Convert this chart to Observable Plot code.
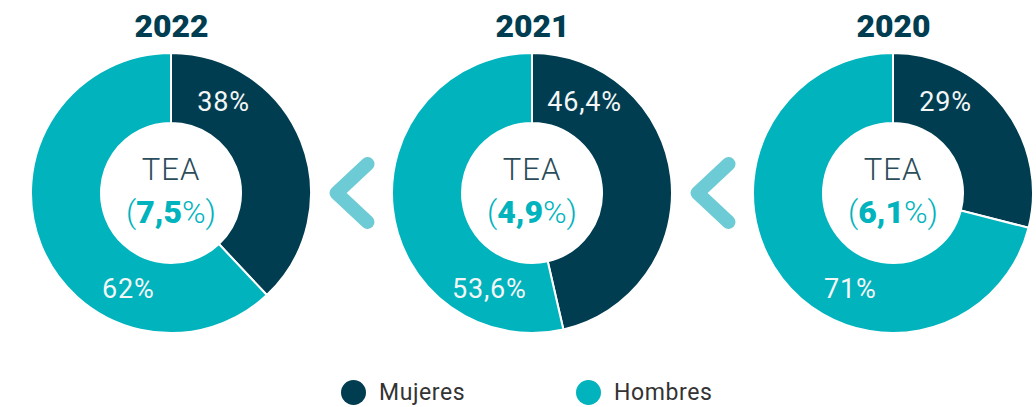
<!DOCTYPE html>
<html><head><meta charset="utf-8">
<script src="https://cdn.jsdelivr.net/npm/d3@7"></script>
<script src="https://cdn.jsdelivr.net/npm/@observablehq/plot@0.6"></script>
<style>
body{margin:0;background:#fff;font-family:Roboto,sans-serif;width:1036px;height:407px;overflow:hidden;position:relative}
#chart{position:absolute;left:0;top:0}
.leg{position:absolute;top:379px;display:flex;align-items:center;font-size:23px;color:#333;letter-spacing:0.6px}
.leg span.sw{display:inline-block;width:25px;height:25px;border-radius:50%;margin-right:13px}
</style></head><body><div id="chart"></div>
<div class="leg" id="leg0" style="left:341px"></div>
<div class="leg" id="leg1" style="left:576px"></div>
<script>
const years = ["2022", "2021", "2020"];
const mujeres = [38, 46.4, 29];
const hombres = [62, 53.6, 71];
const mujeresLabels = ["38%", "46,4%", "29%"];
const hombresLabels = ["62%", "53,6%", "71%"];
const teaValues = ["7,5", "4,9", "6,1"];
const categories = ["Mujeres", "Hombres"];
const colors = ["#003d51", "#00b3bd"];
const chevronColor = "#6ccbd4";

const slices = [];
years.forEach((yr, i) => {
  const total = mujeres[i] + hombres[i];
  slices.push({year: yr, cat: categories[0], a0: 0, a1: mujeres[i] / total, label: mujeresLabels[i]});
  slices.push({year: yr, cat: categories[1], a0: mujeres[i] / total, a1: 1, label: hombresLabels[i]});
});
const centers = years.map((yr, i) => ({year: yr, tea: teaValues[i]}));

function donutMark(index, scales) {
  const {x, y, color} = scales;
  const cy = y(0);
  const rOut = Math.abs(y(0) - y(1));
  const rIn = rOut * 0.5;
  const g = d3.create("svg:g");
  const arc = d3.arc().innerRadius(rIn).outerRadius(rOut);
  g.selectAll("path.slice").data(slices).join("path")
    .attr("class", "slice")
    .attr("transform", d => `translate(${x(d.year)},${cy})`)
    .attr("d", d => arc({startAngle: d.a0 * 2 * Math.PI, endAngle: d.a1 * 2 * Math.PI}))
    .attr("fill", d => color(d.cat))
    .attr("stroke", "#fff").attr("stroke-width", 2).attr("stroke-linejoin", "miter");
  // percentage labels
  const rl = rOut * 0.75;
  g.selectAll("text.pct").data(slices).join("text")
    .attr("class", "pct")
    .attr("x", d => x(d.year) + rl * Math.sin((d.cat === categories[0] ? 30 : 204) * Math.PI / 180))
    .attr("y", d => cy - rl * Math.cos((d.cat === categories[0] ? 30 : 204) * Math.PI / 180))
    .attr("text-anchor", "middle").attr("dominant-baseline", "central")
    .attr("fill", "#f4f6f6").attr("font-size", 27).attr("font-family", "Roboto, sans-serif")
    .attr("letter-spacing", "0.8px")
    .text(d => d.label);
  // center texts
  g.selectAll("text.tea").data(centers).join("text")
    .attr("class", "tea")
    .attr("x", d => x(d.year)).attr("y", cy - 24)
    .attr("text-anchor", "middle").attr("dominant-baseline", "central")
    .attr("fill", "#2b4c5a").attr("font-size", 31).attr("font-weight", 300)
    .attr("font-family", "Roboto, sans-serif").attr("letter-spacing", "1px")
    .text("TEA");
  const v = g.selectAll("text.val").data(centers).join("text")
    .attr("class", "val")
    .attr("x", d => x(d.year)).attr("y", cy + 19)
    .attr("text-anchor", "middle").attr("dominant-baseline", "central")
    .attr("fill", colors[1]).attr("font-size", 32)
    .attr("font-family", "Roboto, sans-serif");
  v.append("tspan").attr("font-weight", 300).text("(");
  v.append("tspan").attr("font-weight", 900).text(d => d.tea);
  v.append("tspan").attr("font-weight", 300).text("%)");
  // chevrons between donuts
  const mids = d3.pairs(years).map(([a, b]) => (x(a) + x(b)) / 2);
  g.selectAll("path.chev").data(mids).join("path")
    .attr("class", "chev")
    .attr("d", m => `M${m + 16},${cy - 29}L${m - 15},${cy}L${m + 16},${cy + 29}`)
    .attr("fill", "none").attr("stroke", chevronColor).attr("stroke-width", 14)
    .attr("stroke-linecap", "round").attr("stroke-linejoin", "round");
  return g.node();
}

const chart = Plot.plot({
  width: 1036,
  height: 355,
  marginTop: 53,
  marginBottom: 22,
  marginLeft: 0,
  marginRight: 0,
  x: {type: "point", domain: years, range: [170, 893], padding: 0, axis: null},
  y: {domain: [-1, 1], axis: null},
  color: {domain: categories, range: colors},
  marks: [
    Plot.text(years, {x: d => d, frameAnchor: "top", lineAnchor: "middle", dy: -27, text: d => d,
      fontSize: 32, fontWeight: 900, fill: colors[0], fontFamily: "Roboto, sans-serif"}),
    Plot.dot(centers, {x: "year", y: d => 0, r: 0, fill: "none"}),
    donutMark
  ]
});
document.getElementById("chart").appendChild(chart);

categories.forEach((c, i) => {
  const el = document.getElementById("leg" + i);
  el.innerHTML = `<span class="sw" style="background:${colors[i]}"></span>${c}`;
});
</script></body></html>
